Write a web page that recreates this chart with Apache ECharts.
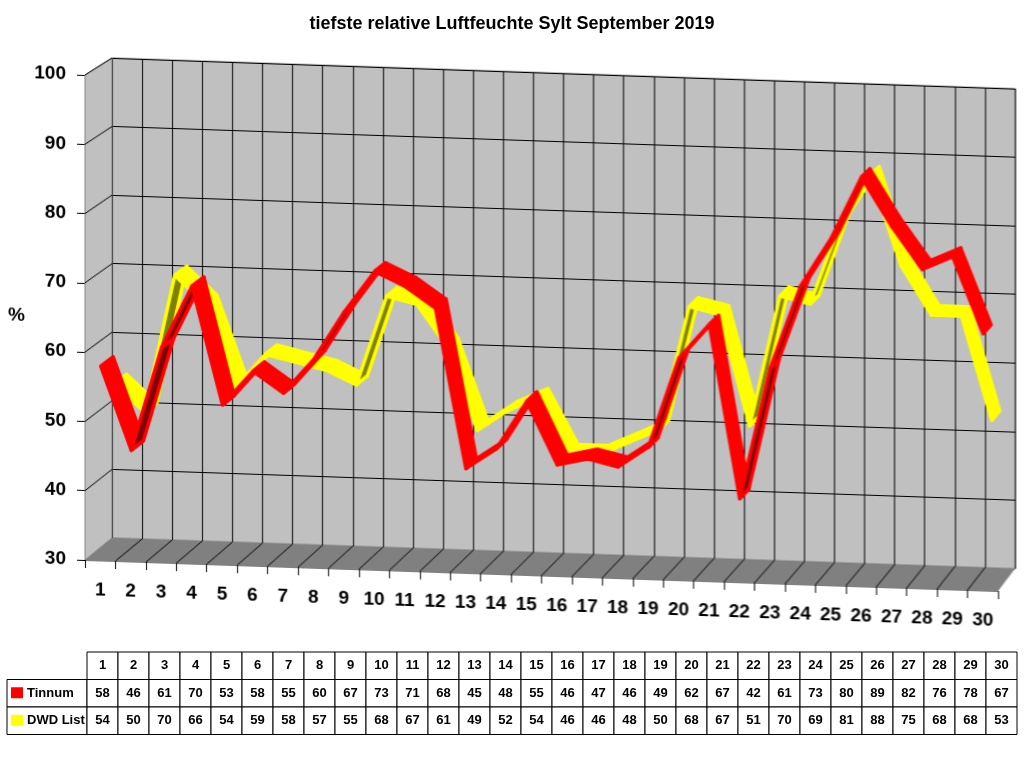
<!DOCTYPE html>
<html>
<head>
<meta charset="utf-8">
<script src="https://cdn.jsdelivr.net/npm/echarts@6/dist/echarts.min.js"></script>
<style>
html, body { margin: 0; padding: 0; background: #fff; }
#wrap { position: relative; width: 1024px; height: 768px; overflow: hidden; }
#plot, #info { position: absolute; left: 0; top: 0; width: 1024px; height: 768px; }
/* leichte Scherung fuer den 3D-Look wie im Excel-Diagramm */
#plot { transform-origin: 85px 560px; transform: skewY(1.95deg); }
</style>
</head>
<body>
<div id="wrap"><div id="plot"></div><div id="info"></div></div>
<script>
// Tage
const days = ['1', '2', '3', '4', '5', '6', '7', '8', '9', '10', '11', '12', '13', '14', '15',
  '16', '17', '18', '19', '20', '21', '22', '23', '24', '25', '26', '27', '28', '29', '30'];
// Messwerte
const tinnum = [58, 46, 61, 70, 53, 58, 55, 60, 67, 73, 71, 68, 45, 48, 55, 46, 47, 46, 49, 62, 67, 42, 61, 73, 80, 89, 82, 76, 78, 67];
const dwdList = [54, 50, 70, 66, 54, 59, 58, 57, 55, 68, 67, 61, 49, 52, 54, 46, 46, 48, 50, 68, 67, 51, 70, 69, 81, 88, 75, 68, 68, 53];
const seriesNames = ['Tinnum', 'DWD List'];
const seriesColors = ['#ff0000', '#ffff00'];
const shadeColors = ['#800000', '#808000'];
const yTicks = [30, 40, 50, 60, 70, 80, 90, 100];

const FONT = '"Liberation Sans", Arial, sans-serif';
const yMin = yTicks[0], yMax = yTicks[yTicks.length - 1];

// Vorderkante und Rueckwand des Diagrammraums
const FRONT = { l: 85, t: 75, r: 998, b: 560 };
const BACK = { l: 112, t: 57, r: 1015, b: 537 };

function depthRect(d) {
  const l = FRONT.l + (BACK.l - FRONT.l) * d;
  const t = FRONT.t + (BACK.t - FRONT.t) * d;
  const r = FRONT.r + (BACK.r - FRONT.r) * d;
  const b = FRONT.b + (BACK.b - FRONT.b) * d;
  return { left: l, top: t, width: r - l, height: b - t };
}
function yAt(rect, v) {
  return rect.top + rect.height * (yMax - v) / (yMax - yMin);
}
// Punkt auf der Vorderebene nach hinten verschieben (d = 0 vorn, 1 Rueckwand)
function toDepth(p, d) {
  const bx = BACK.l + (p[0] - FRONT.l) * (BACK.r - BACK.l) / (FRONT.r - FRONT.l);
  const by = BACK.t + (p[1] - FRONT.t) * (BACK.b - BACK.t) / (FRONT.b - FRONT.t);
  return [p[0] + (bx - p[0]) * d, p[1] + (by - p[1]) * d];
}

const gFront = depthRect(0);
const gBack = depthRect(1);

// Seitenwand und Boden
const deco = [];
deco.push({
  type: 'polygon', z: 1, silent: true,
  shape: { points: [[FRONT.l, FRONT.t], [BACK.l, BACK.t], [BACK.l, BACK.b], [FRONT.l, FRONT.b]] },
  style: { fill: '#c0c0c0', stroke: '#808080', lineWidth: 1 }
});
deco.push({
  type: 'polygon', z: 1, silent: true,
  shape: { points: [[FRONT.l, FRONT.b], [FRONT.r, FRONT.b], [BACK.r, BACK.b], [BACK.l, BACK.b]] },
  style: { fill: '#808080' }
});
yTicks.slice(1).forEach(v => {
  deco.push({
    type: 'line', z: 2, silent: true,
    shape: { x1: FRONT.l, y1: yAt(gFront, v), x2: BACK.l, y2: yAt(gBack, v) },
    style: { stroke: '#000', lineWidth: 1 }
  });
});
for (let i = 1; i < days.length; i++) {
  deco.push({
    type: 'line', z: 2, silent: true,
    shape: {
      x1: FRONT.l + i * gFront.width / days.length, y1: FRONT.b,
      x2: BACK.l + i * gBack.width / days.length, y2: BACK.b
    },
    style: { stroke: '#000', lineWidth: 1 }
  });
}

// Band (3D-Linie) als Folge von Parallelogrammen
function segments(vals) {
  return vals.slice(0, -1).map((v, i) => [i, v, vals[i + 1]]);
}
function ribbon(idx, vals, d0, d1, z) {
  return {
    name: seriesNames[idx], type: 'custom', xAxisIndex: 0, yAxisIndex: 0, z: z,
    silent: true, clip: false,
    encode: { x: 0, y: [1, 2] },
    data: segments(vals),
    renderItem: function (params, api) {
      const i = api.value(0);
      const p1 = api.coord([i, api.value(1)]);
      const p2 = api.coord([i + 1, api.value(2)]);
      const f1 = toDepth(p1, d0), f2 = toDepth(p2, d0);
      const b1 = toDepth(p1, d1), b2 = toDepth(p2, d1);
      const sx = f2[0] - f1[0], sy = f2[1] - f1[1];
      const dx = b1[0] - f1[0], dy = b1[1] - f1[1];
      const under = sx * dy - sy * dx > 0;
      return {
        type: 'polygon',
        shape: { points: [f1, f2, b2, b1] },
        style: {
          fill: under ? shadeColors[idx] : seriesColors[idx],
          stroke: seriesColors[idx], lineWidth: 3.5, lineJoin: 'round'
        }
      };
    }
  };
}

const plot = echarts.init(document.getElementById('plot'));
plot.setOption({
  animation: false,
  grid: [
    Object.assign({}, gFront),
    Object.assign({ show: true, backgroundColor: '#c0c0c0', borderColor: '#808080', borderWidth: 1 }, gBack)
  ],
  xAxis: [{
    type: 'category', gridIndex: 0, data: days, boundaryGap: true,
    axisLine: { lineStyle: { color: '#808080' } },
    axisTick: { show: true, interval: 0, length: 8, lineStyle: { color: '#000' } },
    axisLabel: { interval: 0, margin: 20, color: '#000', fontFamily: FONT, fontWeight: 'bold', fontSize: 19 },
    splitLine: { show: false }
  }, {
    type: 'category', gridIndex: 1, data: days, boundaryGap: true,
    axisLine: { show: false }, axisTick: { show: false }, axisLabel: { show: false },
    splitLine: { show: true, interval: 0, lineStyle: { color: '#000', width: 1 } }
  }],
  yAxis: [{
    type: 'value', gridIndex: 0, min: yMin, max: yMax, interval: 10,
    name: '%', nameLocation: 'middle', nameRotate: 0, nameGap: 60,
    nameTextStyle: { color: '#000', fontFamily: FONT, fontWeight: 'bold', fontSize: 19 },
    axisLine: { show: true, lineStyle: { color: '#000' } },
    axisTick: { show: true, length: 8, lineStyle: { color: '#000' } },
    axisLabel: { margin: 19, color: '#000', fontFamily: FONT, fontWeight: 'bold', fontSize: 19 },
    splitLine: { show: false }
  }, {
    type: 'value', gridIndex: 1, min: yMin, max: yMax, interval: 10,
    axisLine: { show: false }, axisTick: { show: false }, axisLabel: { show: false },
    splitLine: { show: true, lineStyle: { color: '#000', width: 1 } }
  }],
  graphic: deco,
  series: [
    ribbon(1, dwdList, 0.52, 0.98, 5),
    ribbon(0, tinnum, 0.02, 0.48, 6)
  ]
});

// Titel und Datentabelle
const TAB = { x0: 7, labelW: 80, colW: 31, y0: 652, rowH: 27.5 };
const TFONT = 'bold 13px ' + FONT;
const cells = [];
const colX0 = TAB.x0 + TAB.labelW;
function cell(x, y, w, h, txt) {
  cells.push({
    type: 'rect', silent: true,
    shape: { x: x, y: y, width: w, height: h },
    style: { fill: '#fff', stroke: '#000', lineWidth: 1 }
  });
  cells.push({
    type: 'text', silent: true, x: x + w / 2, y: y + h / 2,
    style: { text: txt, font: TFONT, fill: '#000', align: 'center', verticalAlign: 'middle' }
  });
}
days.forEach((d, i) => cell(colX0 + i * TAB.colW, TAB.y0, TAB.colW, TAB.rowH, d));
[tinnum, dwdList].forEach((vals, r) => {
  const y = TAB.y0 + (r + 1) * TAB.rowH;
  cells.push({
    type: 'rect', silent: true,
    shape: { x: TAB.x0, y: y, width: TAB.labelW, height: TAB.rowH },
    style: { fill: '#fff', stroke: '#000', lineWidth: 1 }
  });
  cells.push({
    type: 'rect', silent: true,
    shape: { x: TAB.x0 + 4, y: y + TAB.rowH / 2 - 6, width: 12, height: 11 },
    style: { fill: seriesColors[r] }
  });
  cells.push({
    type: 'text', silent: true, x: TAB.x0 + 20, y: y + TAB.rowH / 2,
    style: { text: seriesNames[r], font: 'bold 13px ' + FONT, fill: '#000', align: 'left', verticalAlign: 'middle' }
  });
  vals.forEach((v, i) => cell(colX0 + i * TAB.colW, y, TAB.colW, TAB.rowH, String(v)));
});

const info = echarts.init(document.getElementById('info'));
info.setOption({
  animation: false,
  title: {
    text: 'tiefste relative Luftfeuchte Sylt September 2019',
    left: 'center', top: 10,
    textStyle: { color: '#000', fontFamily: FONT, fontWeight: 'bold', fontSize: 18 }
  },
  graphic: cells
});
</script>
</body>
</html>
